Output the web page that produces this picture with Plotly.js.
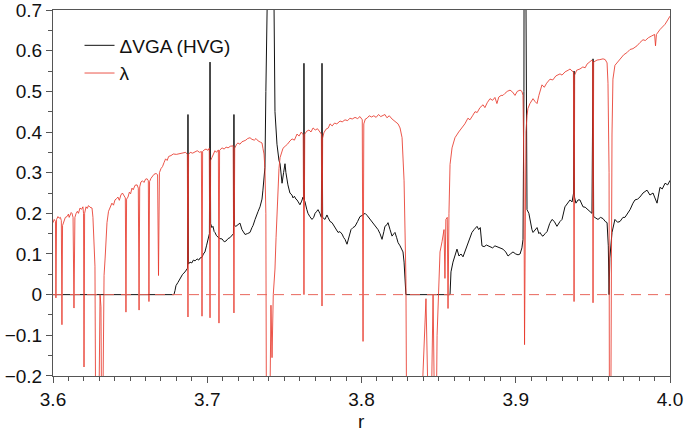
<!DOCTYPE html>
<html>
<head>
<meta charset="utf-8">
<script src="https://cdn.plot.ly/plotly-3.0.1.min.js"></script>
<style>html,body{margin:0;padding:0;background:#fff;}#chart{width:685px;height:434px;}</style>
</head>
<body>
<div id="chart"></div>
<script>
// Lyapunov exponent (red)
const lamR = [3.6000,3.6008,3.6016,3.6019,3.6023,3.6032,3.6040,3.6048,3.6054,3.6058,3.6062,3.6071,3.6080,3.6091,3.6100,3.6105,3.6110,3.6118,3.6123,3.6130,3.6136,3.6142,3.6150,3.6158,3.6165,3.6175,3.6185,3.6194,3.6198,3.6201,3.6205,3.6214,3.6222,3.6230,3.6240,3.6253,3.6259,3.6266,3.6272,3.6279,3.6292,3.6305,3.6311,3.6318,3.6324,3.6331,3.6338,3.6344,3.6350,3.6360,3.6370,3.6382,3.6392,3.6402,3.6412,3.6421,3.6430,3.6440,3.6450,3.6460,3.6469,3.6473,3.6477,3.6486,3.6495,3.6503,3.6512,3.6520,3.6532,3.6545,3.6553,3.6558,3.6562,3.6570,3.6580,3.6590,3.6600,3.6610,3.6618,3.6622,3.6626,3.6635,3.6645,3.6655,3.6668,3.6678,3.6684,3.6690,3.6700,3.6710,3.6720,3.6730,3.6740,3.6750,3.6765,3.6780,3.6800,3.6820,3.6840,3.6860,3.6871,3.6875,3.6879,3.6890,3.6905,3.6920,3.6935,3.6950,3.6962,3.6966,3.6970,3.6980,3.6992,3.7005,3.7013,3.7018,3.7022,3.7030,3.7040,3.7050,3.7060,3.7072,3.7076,3.7080,3.7096,3.7110,3.7122,3.7135,3.7150,3.7168,3.7173,3.7178,3.7190,3.7199,3.7212,3.7225,3.7238,3.7250,3.7262,3.7277,3.7290,3.7305,3.7316,3.7330,3.7345,3.7355,3.7361,3.7368,3.7374,3.7380,3.7385,3.7400,3.7413,3.7420,3.7428,3.7439,3.7446,3.7452,3.7459,3.7465,3.7472,3.7480,3.7491,3.7505,3.7520,3.7536,3.7550,3.7565,3.7582,3.7595,3.7610,3.7622,3.7627,3.7632,3.7645,3.7660,3.7672,3.7686,3.7700,3.7715,3.7731,3.7740,3.7744,3.7748,3.7756,3.7770,3.7785,3.7796,3.7810,3.7825,3.7840,3.7861,3.7875,3.7893,3.7910,3.7925,3.7940,3.7958,3.7975,3.7990,3.8005,3.8010,3.8015,3.8025,3.8036,3.8050,3.8065,3.8080,3.8095,3.8110,3.8125,3.8140,3.8152,3.8165,3.8180,3.8198,3.8217,3.8237,3.8250,3.8263,3.8276,3.8282,3.8288,3.8295,3.8366,3.8418,3.8444,3.8464,3.8480,3.8490,3.8500,3.8509,3.8522,3.8535,3.8541,3.8547,3.8556,3.8561,3.8567,3.8574,3.8587,3.8606,3.8630,3.8652,3.8670,3.8690,3.8703,3.8720,3.8736,3.8750,3.8768,3.8788,3.8800,3.8815,3.8833,3.8850,3.8865,3.8878,3.8890,3.8905,3.8917,3.8930,3.8945,3.8963,3.8980,3.8995,3.9010,3.9028,3.9040,3.9047,3.9053,3.9057,3.9062,3.9066,3.9073,3.9079,3.9092,3.9105,3.9112,3.9125,3.9138,3.9150,3.9170,3.9185,3.9200,3.9222,3.9240,3.9260,3.9287,3.9300,3.9320,3.9340,3.9352,3.9365,3.9374,3.9378,3.9382,3.9395,3.9416,3.9435,3.9450,3.9462,3.9480,3.9494,3.9498,3.9501,3.9505,3.9527,3.9545,3.9566,3.9580,3.9592,3.9598,3.9605,3.9608,3.9614,3.9624,3.9630,3.9643,3.9660,3.9676,3.9700,3.9720,3.9741,3.9760,3.9786,3.9805,3.9825,3.9840,3.9860,3.9880,3.9900,3.9906,3.9912,3.9935,3.9950,3.9968,3.9981,4.0000];
const lamV = [0.177,0.185,0.180,-0.008,0.185,0.192,0.188,0.190,0.182,-0.074,0.170,0.178,0.190,0.192,0.198,0.190,0.197,0.202,0.200,0.190,-0.033,0.190,0.200,0.205,0.200,0.213,0.210,0.216,0.200,-0.178,0.200,0.216,0.212,0.219,0.215,0.213,0.190,0.140,0.070,-0.5,-0.5,0.000,-0.030,-0.5,-0.100,0.047,0.090,0.128,0.177,0.205,0.216,0.225,0.220,0.233,0.236,0.240,0.232,0.245,0.250,0.242,0.238,-0.043,0.235,0.240,0.252,0.248,0.262,0.258,0.269,0.270,0.262,-0.038,0.265,0.277,0.280,0.276,0.284,0.285,0.280,-0.017,0.278,0.286,0.290,0.296,0.298,0.295,0.047,0.300,0.310,0.315,0.325,0.334,0.330,0.340,0.342,0.346,0.345,0.347,0.348,0.350,0.345,-0.055,0.345,0.350,0.348,0.352,0.354,0.350,0.352,-0.053,0.352,0.356,0.358,0.355,0.360,-0.057,0.330,0.337,0.345,0.354,0.350,0.356,-0.070,0.355,0.361,0.358,0.363,0.361,0.365,0.366,-0.045,0.360,0.370,0.373,0.370,0.376,0.378,0.380,0.384,0.386,0.382,0.380,0.384,0.378,0.375,0.373,0.360,0.346,0.310,0.200,-0.5,-0.5,-0.026,-0.155,0.000,0.063,0.140,0.200,0.280,0.310,0.337,0.350,0.360,0.365,0.370,0.378,0.383,0.380,0.395,0.390,0.400,0.393,0.000,0.395,0.402,0.405,0.400,0.410,0.405,0.408,0.400,0.395,-0.028,0.385,0.398,0.407,0.410,0.420,0.415,0.422,0.420,0.427,0.425,0.430,0.428,0.434,0.432,0.436,0.433,0.438,0.430,-0.115,0.420,0.432,0.434,0.440,0.437,0.440,0.436,0.443,0.438,0.442,0.443,0.435,0.440,0.432,0.427,0.420,0.410,0.386,0.280,0.150,0.040,-0.5,-0.5,-0.010,-0.5,0.000,-0.5,-0.100,0.033,0.105,0.130,0.160,0.040,0.185,0.190,-0.034,0.200,0.320,0.361,0.386,0.400,0.410,0.420,0.434,0.430,0.440,0.450,0.448,0.460,0.467,0.460,0.472,0.482,0.478,0.485,0.470,0.486,0.490,0.490,0.495,0.500,0.503,0.498,0.490,0.500,0.503,0.500,0.490,0.300,-0.123,0.200,0.400,0.440,0.458,0.470,0.478,0.482,0.475,0.470,0.490,0.516,0.510,0.520,0.530,0.528,0.538,0.543,0.540,0.548,0.552,0.555,0.550,0.548,-0.017,0.540,0.552,0.555,0.560,0.558,0.567,0.572,0.577,0.575,-0.020,0.572,0.577,0.578,0.580,0.578,0.570,0.520,0.300,-0.5,-0.5,0.395,0.530,0.564,0.572,0.580,0.590,0.595,0.603,0.605,0.612,0.620,0.627,0.625,0.632,0.636,0.640,0.612,0.640,0.652,0.658,0.665,0.673,0.685];

// ΔVGA (HVG) (black)
const hvgR = [3.6000,3.6784,3.6791,3.6797,3.6810,3.6823,3.6840,3.6856,3.6868,3.6872,3.6875,3.6878,3.6888,3.6900,3.6910,3.6921,3.6934,3.6945,3.6953,3.6966,3.6975,3.6985,3.6995,3.7005,3.7014,3.7018,3.7022,3.7030,3.7037,3.7045,3.7050,3.7060,3.7070,3.7080,3.7096,3.7110,3.7122,3.7135,3.7147,3.7160,3.7170,3.7173,3.7176,3.7186,3.7199,3.7212,3.7225,3.7238,3.7245,3.7260,3.7277,3.7290,3.7297,3.7310,3.7316,3.7330,3.7342,3.7355,3.7361,3.7368,3.7374,3.7380,3.7386,3.7420,3.7426,3.7432,3.7439,3.7452,3.7459,3.7465,3.7472,3.7478,3.7485,3.7495,3.7504,3.7510,3.7517,3.7523,3.7536,3.7549,3.7556,3.7565,3.7575,3.7582,3.7590,3.7601,3.7612,3.7621,3.7625,3.7627,3.7630,3.7634,3.7645,3.7653,3.7665,3.7679,3.7690,3.7699,3.7710,3.7718,3.7730,3.7740,3.7744,3.7748,3.7763,3.7776,3.7783,3.7796,3.7809,3.7820,3.7828,3.7840,3.7848,3.7860,3.7874,3.7885,3.7893,3.7906,3.7918,3.7932,3.7945,3.7958,3.7975,3.7990,3.8005,3.8023,3.8036,3.8042,3.8055,3.8075,3.8090,3.8107,3.8120,3.8133,3.8145,3.8152,3.8165,3.8172,3.8185,3.8198,3.8210,3.8217,3.8228,3.8237,3.8250,3.8263,3.8269,3.8276,3.8282,3.8288,3.8574,3.8580,3.8593,3.8606,3.8619,3.8632,3.8645,3.8658,3.8670,3.8684,3.8700,3.8716,3.8730,3.8749,3.8760,3.8770,3.8781,3.8795,3.8810,3.8833,3.8850,3.8865,3.8878,3.8895,3.8917,3.8935,3.8950,3.8965,3.8982,3.9000,3.9015,3.9028,3.9040,3.9047,3.9053,3.9056,3.9063,3.9068,3.9073,3.9085,3.9092,3.9105,3.9112,3.9125,3.9138,3.9150,3.9157,3.9170,3.9177,3.9190,3.9203,3.9220,3.9235,3.9250,3.9267,3.9287,3.9300,3.9319,3.9335,3.9352,3.9365,3.9375,3.9378,3.9381,3.9390,3.9404,3.9416,3.9436,3.9450,3.9468,3.9485,3.9494,3.9501,3.9505,3.9520,3.9533,3.9550,3.9566,3.9580,3.9592,3.9600,3.9605,3.9610,3.9624,3.9643,3.9660,3.9676,3.9695,3.9708,3.9725,3.9741,3.9760,3.9773,3.9790,3.9805,3.9825,3.9851,3.9870,3.9890,3.9900,3.9916,3.9935,3.9950,3.9968,3.9985,4.0000];
const hvgV = [0,0,0.010,0.022,0.030,0.040,0.050,0.056,0.063,0.065,0.443,0.075,0.080,0.078,0.085,0.083,0.088,0.085,0.090,0.092,0.100,0.105,0.120,0.136,0.150,0.572,0.175,0.165,0.168,0.155,0.153,0.145,0.140,0.138,0.137,0.130,0.132,0.138,0.140,0.145,0.150,0.443,0.170,0.168,0.172,0.176,0.160,0.150,0.148,0.150,0.153,0.165,0.170,0.185,0.192,0.205,0.216,0.235,0.257,0.285,0.313,0.500,1.5,1.5,1.0,0.600,0.450,0.370,0.337,0.330,0.322,0.300,0.274,0.300,0.322,0.300,0.281,0.270,0.250,0.245,0.238,0.242,0.235,0.233,0.228,0.221,0.230,0.240,0.235,0.569,0.232,0.228,0.210,0.200,0.192,0.185,0.190,0.200,0.205,0.209,0.200,0.190,0.569,0.190,0.185,0.196,0.190,0.180,0.177,0.170,0.168,0.160,0.153,0.155,0.149,0.140,0.136,0.124,0.140,0.160,0.165,0.168,0.180,0.192,0.195,0.200,0.195,0.192,0.185,0.177,0.168,0.160,0.150,0.136,0.155,0.168,0.172,0.177,0.160,0.144,0.150,0.153,0.140,0.128,0.120,0.112,0.105,0.080,0.030,0,0,0.056,0.080,0.095,0.112,0.095,0.100,0.093,0.105,0.120,0.140,0.153,0.160,0.168,0.160,0.165,0.120,0.118,0.122,0.117,0.115,0.120,0.118,0.115,0.112,0.105,0.095,0.100,0.105,0.100,0.098,0.100,0.115,0.136,0.500,1.5,1.5,0.500,0.209,0.200,0.185,0.160,0.153,0.160,0.165,0.150,0.153,0.145,0.144,0.150,0.155,0.175,0.185,0.180,0.168,0.180,0.185,0.216,0.225,0.233,0.228,0.250,0.550,0.240,0.225,0.233,0.233,0.216,0.215,0.209,0.205,0.200,0.580,0.192,0.188,0.185,0.190,0.187,0.180,0.177,0.120,0,0.090,0.153,0.185,0.178,0.180,0.190,0.190,0.200,0.209,0.225,0.233,0.235,0.240,0.250,0.257,0.245,0.250,0.240,0.225,0.264,0.260,0.274,0.270,0.281];

const xTicks = [3.6, 3.7, 3.8, 3.9, 4.0];
const yTicks = [-0.2, -0.1, 0, 0.1, 0.2, 0.3, 0.4, 0.5, 0.6, 0.7];

const FONT = 'Liberation Sans, Arial, sans-serif';
const FS = 19;

const traces = [
  {x: hvgR, y: hvgV, type: 'scatter', mode: 'lines', name: 'ΔVGA (HVG)',
   line: {color: '#111111', width: 1}},
  {x: lamR, y: lamV, type: 'scatter', mode: 'lines', name: 'λ',
   line: {color: '#e8382c', width: 1}, opacity: 0.85}
];

const layout = {
  width: 685, height: 434,
  margin: {l: 53, r: 15, t: 10, b: 58},
  paper_bgcolor: '#fff', plot_bgcolor: '#fff',
  font: {family: FONT, size: FS, color: '#111'},
  showlegend: true,
  legend: {x: 0.043, y: 0.955, xanchor: 'left', yanchor: 'top', bgcolor: 'rgba(0,0,0,0)',
           font: {family: FONT, size: FS, color: '#111'}, tracegroupgap: 0},
  xaxis: {range: [3.6, 4.0], tickvals: xTicks, ticktext: xTicks.map(v => v.toFixed(1)),
          showgrid: false, zeroline: false, showline: true, mirror: true,
          linecolor: '#555', linewidth: 1, ticks: 'outside', ticklen: 6, tickcolor: '#555',
          ticklabeloverflow: 'allow',
          minor: {dtick: 0.01, tick0: 3.6, ticks: 'outside', ticklen: 4, tickcolor: '#555', showgrid: false},
          tickfont: {family: FONT, size: FS}},
  yaxis: {range: [-0.2001, 0.7001], tickvals: yTicks,
          ticktext: yTicks.map(v => v === 0 ? '0' : (v < 0 ? '\u2212' + Math.abs(v).toFixed(1) : v.toFixed(1))),
          showgrid: false, zeroline: false, showline: true, mirror: true,
          linecolor: '#555', linewidth: 1, ticks: 'outside', ticklen: 6, tickcolor: '#555',
          ticklabeloverflow: 'allow',
          minor: {dtick: 0.05, tick0: 0, ticks: 'outside', ticklen: 4, tickcolor: '#555', showgrid: false},
          tickfont: {family: FONT, size: FS}},
  annotations: [{text: 'r', xref: 'paper', yref: 'paper', x: 0.5, y: -0.1557,
                 xanchor: 'center', yanchor: 'bottom', showarrow: false, borderpad: 0,
                 font: {family: FONT, size: FS, color: '#111'}}],
  shapes: [{type: 'line', xref: 'paper', x0: 0, x1: 1, yref: 'y', y0: 0, y1: 0,
            line: {color: '#e8665c', width: 1, dash: '10px,7px'}, layer: 'above'}]
};

Plotly.newPlot('chart', traces, layout, {displayModeBar: false, staticPlot: true});
</script>
</body>
</html>
